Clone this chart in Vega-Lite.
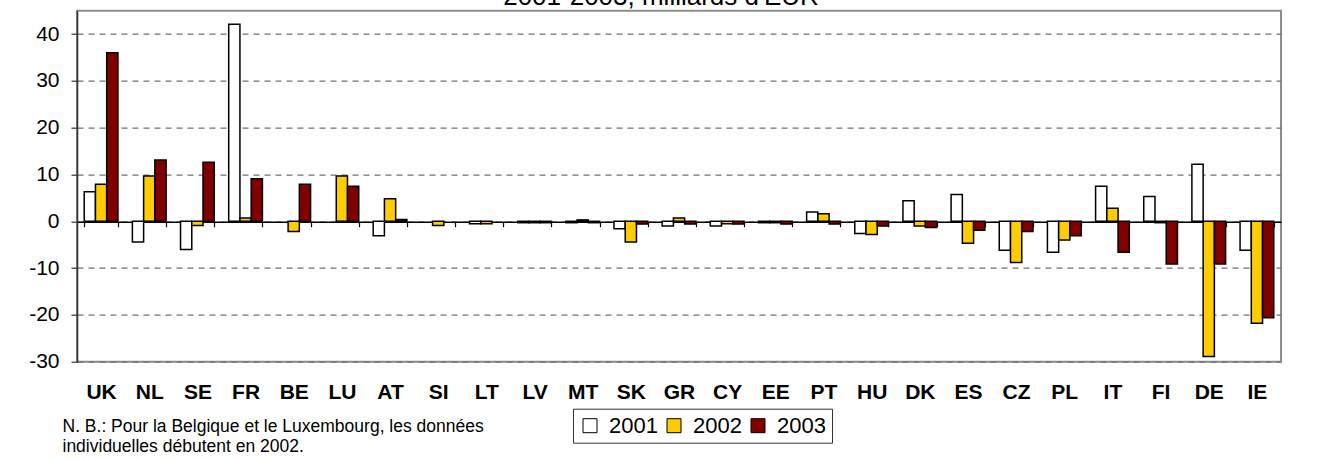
{
  "$schema": "https://vega.github.io/schema/vega-lite/v6.json",
  "autosize": {"type": "none"},
  "width": 1204,
  "height": 351,
  "padding": {"left": 77, "top": 10.7, "right": 38, "bottom": 97.3},
  "background": "white",
  "config": {
    "font": "Liberation Sans",
    "view": {"stroke": "#8c8c8c", "strokeWidth": 2},
    "axis": {"labelColor": "black", "titleColor": "black"}
  },
  "title": {
    "text": "2001-2003, milliards d'EUR",
    "fontSize": 26,
    "fontWeight": "normal",
    "color": "black",
    "frame": "group",
    "anchor": "middle",
    "baseline": "alphabetic",
    "offset": 0,
    "dx": -18,
    "dy": 20
  },
  "data": {
    "values": [
      {"pays": "UK", "annee": "2001", "valeur": 6.3},
      {"pays": "UK", "annee": "2002", "valeur": 7.9},
      {"pays": "UK", "annee": "2003", "valeur": 36.0},
      {"pays": "NL", "annee": "2001", "valeur": -4.4},
      {"pays": "NL", "annee": "2002", "valeur": 9.7},
      {"pays": "NL", "annee": "2003", "valeur": 13.1},
      {"pays": "SE", "annee": "2001", "valeur": -6.0},
      {"pays": "SE", "annee": "2002", "valeur": -0.9},
      {"pays": "SE", "annee": "2003", "valeur": 12.6},
      {"pays": "FR", "annee": "2001", "valeur": 42.1},
      {"pays": "FR", "annee": "2002", "valeur": 0.7},
      {"pays": "FR", "annee": "2003", "valeur": 9.1},
      {"pays": "BE", "annee": "2002", "valeur": -2.2},
      {"pays": "BE", "annee": "2003", "valeur": 7.9},
      {"pays": "LU", "annee": "2002", "valeur": 9.7},
      {"pays": "LU", "annee": "2003", "valeur": 7.5},
      {"pays": "AT", "annee": "2001", "valeur": -3.1},
      {"pays": "AT", "annee": "2002", "valeur": 4.8},
      {"pays": "AT", "annee": "2003", "valeur": 0.4},
      {"pays": "SI", "annee": "2002", "valeur": -0.9},
      {"pays": "LT", "annee": "2001", "valeur": -0.5},
      {"pays": "LT", "annee": "2002", "valeur": -0.5},
      {"pays": "LV", "annee": "2001", "valeur": -0.3},
      {"pays": "LV", "annee": "2002", "valeur": -0.3},
      {"pays": "LV", "annee": "2003", "valeur": -0.3},
      {"pays": "MT", "annee": "2001", "valeur": -0.3},
      {"pays": "MT", "annee": "2002", "valeur": 0.3},
      {"pays": "MT", "annee": "2003", "valeur": -0.3},
      {"pays": "SK", "annee": "2001", "valeur": -1.6},
      {"pays": "SK", "annee": "2002", "valeur": -4.4},
      {"pays": "SK", "annee": "2003", "valeur": -0.6},
      {"pays": "GR", "annee": "2001", "valeur": -1.0},
      {"pays": "GR", "annee": "2002", "valeur": 0.7},
      {"pays": "GR", "annee": "2003", "valeur": -0.6},
      {"pays": "CY", "annee": "2001", "valeur": -1.0},
      {"pays": "CY", "annee": "2002", "valeur": -0.5},
      {"pays": "CY", "annee": "2003", "valeur": -0.6},
      {"pays": "EE", "annee": "2001", "valeur": -0.3},
      {"pays": "EE", "annee": "2002", "valeur": -0.3},
      {"pays": "EE", "annee": "2003", "valeur": -0.6},
      {"pays": "PT", "annee": "2001", "valeur": 2.0},
      {"pays": "PT", "annee": "2002", "valeur": 1.6},
      {"pays": "PT", "annee": "2003", "valeur": -0.6},
      {"pays": "HU", "annee": "2001", "valeur": -2.6},
      {"pays": "HU", "annee": "2002", "valeur": -2.8},
      {"pays": "HU", "annee": "2003", "valeur": -1.0},
      {"pays": "DK", "annee": "2001", "valeur": 4.4},
      {"pays": "DK", "annee": "2002", "valeur": -1.0},
      {"pays": "DK", "annee": "2003", "valeur": -1.3},
      {"pays": "ES", "annee": "2001", "valeur": 5.7},
      {"pays": "ES", "annee": "2002", "valeur": -4.7},
      {"pays": "ES", "annee": "2003", "valeur": -1.9},
      {"pays": "CZ", "annee": "2001", "valeur": -6.2},
      {"pays": "CZ", "annee": "2002", "valeur": -8.8},
      {"pays": "CZ", "annee": "2003", "valeur": -2.2},
      {"pays": "PL", "annee": "2001", "valeur": -6.6},
      {"pays": "PL", "annee": "2002", "valeur": -4.0},
      {"pays": "PL", "annee": "2003", "valeur": -3.1},
      {"pays": "IT", "annee": "2001", "valeur": 7.5},
      {"pays": "IT", "annee": "2002", "valeur": 2.8},
      {"pays": "IT", "annee": "2003", "valeur": -6.6},
      {"pays": "FI", "annee": "2001", "valeur": 5.3},
      {"pays": "FI", "annee": "2002", "valeur": -0.3},
      {"pays": "FI", "annee": "2003", "valeur": -9.1},
      {"pays": "DE", "annee": "2001", "valeur": 12.2},
      {"pays": "DE", "annee": "2002", "valeur": -28.9},
      {"pays": "DE", "annee": "2003", "valeur": -9.1},
      {"pays": "IE", "annee": "2001", "valeur": -6.2},
      {"pays": "IE", "annee": "2002", "valeur": -21.8},
      {"pays": "IE", "annee": "2003", "valeur": -20.6}
    ]
  },
  "mark": {"type": "bar", "stroke": "black", "strokeWidth": 1.5},
  "encoding": {
    "x": {
      "field": "pays",
      "type": "nominal",
      "sort": null,
      "scale": {"paddingInner": 0.3, "paddingOuter": 0.15},
      "axis": {
        "orient": "bottom",
        "offset": -140,
        "grid": false,
        "domain": true,
        "domainColor": "black",
        "domainWidth": 1.5,
        "ticks": true,
        "tickBand": "extent",
        "tickSize": 5,
        "tickColor": "black",
        "tickWidth": 1.2,
        "labelAngle": 0,
        "labelFontSize": 21,
        "labelFontWeight": "bold",
        "labelBaseline": "alphabetic",
        "labelPadding": 172,
        "labelColor": "black",
        "title": ["N. B.: Pour la Belgique et le Luxembourg, les données", "individuelles débutent en 2002."],
        "titleFontSize": 17.5,
        "titleFontWeight": "normal",
        "titleLineHeight": 20,
        "titleAlign": "left",
        "titleAnchor": "start",
        "titleBaseline": "alphabetic",
        "titleX": -15,
        "titleY": 210,
        "zindex": 0
      }
    },
    "xOffset": {"field": "annee", "type": "nominal", "scale": {"paddingInner": 0, "paddingOuter": 0}},
    "y": {
      "field": "valeur",
      "type": "quantitative",
      "scale": {"domain": [-30, 45], "nice": false, "zero": false},
      "axis": {
        "title": null,
        "values": [-30, -20, -10, 0, 10, 20, 30, 40],
        "labelExpr": "'' + datum.value",
        "labelFontSize": 21,
        "labelPadding": 12,
        "labelColor": "black",
        "domainColor": "#333333",
        "domainWidth": 1.5,
        "tickColor": "#333333",
        "tickSize": 6,
        "tickWidth": 1.2,
        "grid": true,
        "gridColor": "#707070",
        "gridWidth": 1.2,
        "gridDash": [6, 5]
      }
    },
    "fill": {
      "field": "annee",
      "type": "nominal",
      "scale": {"domain": ["2001", "2002", "2003"], "range": ["#FFFFFF", "#FFCC00", "#800000"]},
      "legend": {
        "title": null,
        "orient": "none",
        "direction": "horizontal",
        "legendX": 496,
        "legendY": 398,
        "strokeColor": "#333333",
        "padding": 6,
        "symbolType": "square",
        "symbolSize": 196,
        "symbolStrokeColor": "black",
        "symbolStrokeWidth": 1,
        "labelFontSize": 22,
        "labelColor": "black",
        "labelOffset": 8,
        "columnPadding": 5
      }
    }
  }
}
